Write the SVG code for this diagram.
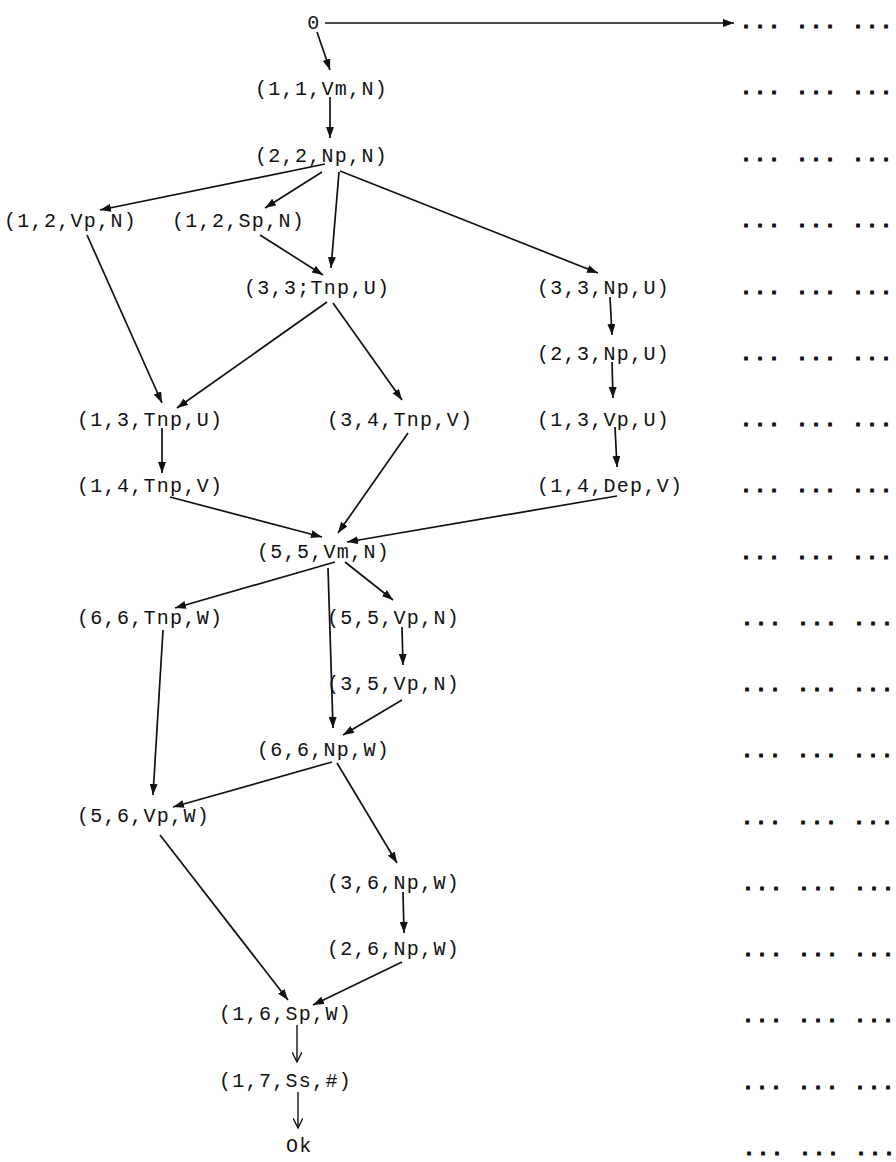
<svg xmlns="http://www.w3.org/2000/svg" width="896" height="1162" viewBox="0 0 896 1162">
<style>
.lbl{font-family:"Liberation Mono","DejaVu Sans Mono",monospace;font-size:20px;letter-spacing:1.3px;fill:#111}
.dots{font-family:"Liberation Mono","DejaVu Sans Mono",monospace;font-size:20px;font-weight:bold;letter-spacing:2px;fill:#111;stroke:#111;stroke-width:1px;stroke-linejoin:round}
.e{stroke:#111;stroke-width:1.7;fill:none;marker-end:url(#ah)}
.o{stroke:#111;stroke-width:1.4;fill:none;marker-end:url(#ao)}
</style>
<defs>
<marker id="ah" markerUnits="userSpaceOnUse" markerWidth="12" markerHeight="8" refX="11" refY="4" orient="auto"><path d="M0,0 L11,4 L0,8 z" fill="#111"/></marker>
<marker id="ao" markerUnits="userSpaceOnUse" markerWidth="12" markerHeight="10" refX="10" refY="5" orient="auto"><path d="M0,0 L10,5 L0,10" fill="none" stroke="#111" stroke-width="1.4"/></marker>
</defs>
<rect width="896" height="1162" fill="#fff"/>
<g id="connectors">
<line class="e" x1="325" y1="23" x2="734" y2="23"/>
<line class="e" x1="317" y1="32" x2="330" y2="70"/>
<line class="e" x1="330" y1="97" x2="330" y2="138"/>
<line class="e" x1="325" y1="164" x2="100" y2="210"/>
<line class="e" x1="322" y1="172" x2="265" y2="208"/>
<line class="e" x1="339" y1="172" x2="331" y2="268"/>
<line class="e" x1="340" y1="171" x2="598" y2="273"/>
<line class="e" x1="260" y1="235" x2="323" y2="275"/>
<line class="e" x1="87" y1="235" x2="162" y2="403"/>
<line class="e" x1="327" y1="302" x2="177" y2="408"/>
<line class="e" x1="333" y1="303" x2="402" y2="400"/>
<line class="e" x1="610" y1="297" x2="612" y2="335"/>
<line class="e" x1="612" y1="362" x2="613" y2="398"/>
<line class="e" x1="615" y1="427" x2="617" y2="467"/>
<line class="e" x1="162" y1="428" x2="162" y2="473"/>
<line class="e" x1="170" y1="497" x2="322" y2="537"/>
<line class="e" x1="408" y1="433" x2="338" y2="533"/>
<line class="e" x1="617" y1="496" x2="347" y2="542"/>
<line class="e" x1="335" y1="562" x2="175" y2="608"/>
<line class="e" x1="328" y1="568" x2="333" y2="728"/>
<line class="e" x1="345" y1="562" x2="393" y2="600"/>
<line class="e" x1="402" y1="627" x2="403" y2="665"/>
<line class="e" x1="402" y1="700" x2="343" y2="735"/>
<line class="e" x1="163" y1="630" x2="153" y2="795"/>
<line class="e" x1="332" y1="762" x2="173" y2="807"/>
<line class="e" x1="337" y1="763" x2="397" y2="863"/>
<line class="e" x1="403" y1="892" x2="404" y2="933"/>
<line class="e" x1="160" y1="835" x2="288" y2="1000"/>
<line class="e" x1="402" y1="962" x2="313" y2="1005"/>
<line class="o" x1="297" y1="1025" x2="297" y2="1062"/>
<line class="o" x1="298" y1="1092" x2="298" y2="1128"/>
</g>
<g id="n0"><text class="lbl" x="314" y="29" text-anchor="middle">0</text></g>
<g id="n1"><text class="lbl" x="255" y="95">(1,1,Vm,N)</text></g>
<g id="n2"><text class="lbl" x="255" y="162">(2,2,Np,N)</text></g>
<g id="n3"><text class="lbl" x="4" y="227">(1,2,Vp,N)</text></g>
<g id="n4"><text class="lbl" x="172" y="227">(1,2,Sp,N)</text></g>
<g id="n5"><text class="lbl" x="244" y="294">(3,3;Tnp,U)</text></g>
<g id="n6"><text class="lbl" x="537" y="294">(3,3,Np,U)</text></g>
<g id="n7"><text class="lbl" x="537" y="360">(2,3,Np,U)</text></g>
<g id="n8"><text class="lbl" x="77" y="426">(1,3,Tnp,U)</text></g>
<g id="n9"><text class="lbl" x="327" y="426">(3,4,Tnp,V)</text></g>
<g id="n10"><text class="lbl" x="537" y="426">(1,3,Vp,U)</text></g>
<g id="n11"><text class="lbl" x="77" y="492">(1,4,Tnp,V)</text></g>
<g id="n12"><text class="lbl" x="537" y="492">(1,4,Dep,V)</text></g>
<g id="n13"><text class="lbl" x="257" y="558">(5,5,Vm,N)</text></g>
<g id="n14"><text class="lbl" x="77" y="624">(6,6,Tnp,W)</text></g>
<g id="n15"><text class="lbl" x="327" y="624">(5,5,Vp,N)</text></g>
<g id="n16"><text class="lbl" x="327" y="690">(3,5,Vp,N)</text></g>
<g id="n17"><text class="lbl" x="257" y="756">(6,6,Np,W)</text></g>
<g id="n18"><text class="lbl" x="77" y="822">(5,6,Vp,W)</text></g>
<g id="n19"><text class="lbl" x="327" y="889">(3,6,Np,W)</text></g>
<g id="n20"><text class="lbl" x="327" y="955">(2,6,Np,W)</text></g>
<g id="n21"><text class="lbl" x="219" y="1020">(1,6,Sp,W)</text></g>
<g id="n22"><text class="lbl" x="219" y="1087">(1,7,Ss,#)</text></g>
<g id="n23"><text class="lbl" x="286" y="1152">Ok</text></g>
<g id="dots">
<text class="dots" x="740" y="28">... ... ...</text>
<text class="dots" x="740" y="94">... ... ...</text>
<text class="dots" x="740" y="161">... ... ...</text>
<text class="dots" x="740" y="227">... ... ...</text>
<text class="dots" x="740" y="294">... ... ...</text>
<text class="dots" x="740" y="360">... ... ...</text>
<text class="dots" x="740" y="426">... ... ...</text>
<text class="dots" x="740" y="492">... ... ...</text>
<text class="dots" x="740" y="559">... ... ...</text>
<text class="dots" x="741" y="625">... ... ...</text>
<text class="dots" x="741" y="691">... ... ...</text>
<text class="dots" x="741" y="757">... ... ...</text>
<text class="dots" x="741" y="824">... ... ...</text>
<text class="dots" x="742" y="890">... ... ...</text>
<text class="dots" x="742" y="956">... ... ...</text>
<text class="dots" x="742" y="1022">... ... ...</text>
<text class="dots" x="742" y="1089">... ... ...</text>
<text class="dots" x="743" y="1155">... ... ...</text>
</g>
</svg>
